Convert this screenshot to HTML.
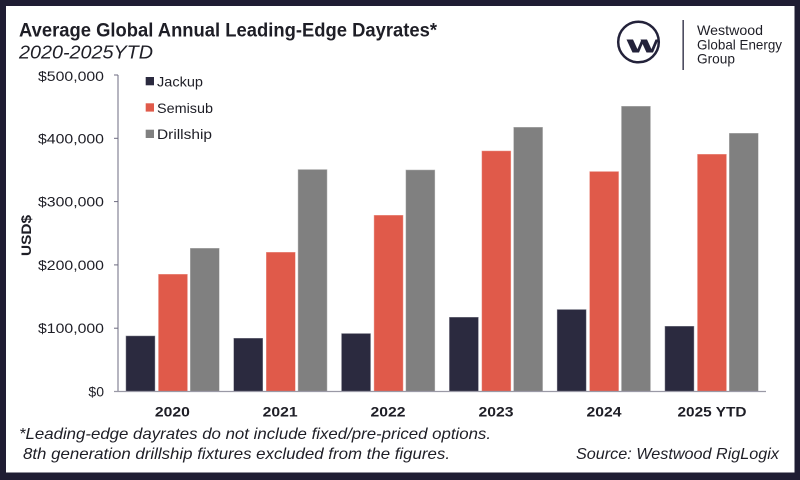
<!DOCTYPE html>
<html>
<head>
<meta charset="utf-8">
<style>
  html, body { margin: 0; padding: 0; background: #1f1d33; }
  svg { display: block; }
  text { font-family: "Liberation Sans", "DejaVu Sans", sans-serif; fill: #1e1e26; }
</style>
</head>
<body>
<svg width="800" height="480" viewBox="0 0 800 480" xmlns="http://www.w3.org/2000/svg">
  <!-- frame -->
  <rect x="0" y="0" width="800" height="480" fill="#1f1d33"/>
  <rect x="6" y="6" width="788.5" height="466.5" fill="#ffffff"/>

  <!-- title -->
  <text x="19" y="36.5" font-size="19" font-weight="bold" textLength="418" lengthAdjust="spacingAndGlyphs">Average Global Annual Leading-Edge Dayrates*</text>
  <text x="19" y="58.5" font-size="18.5" font-style="italic" fill="#222" textLength="134" lengthAdjust="spacingAndGlyphs">2020-2025YTD</text>

  <!-- logo -->
  <circle cx="638.5" cy="42" r="20.3" fill="none" stroke="#23223a" stroke-width="2.5"/>
  <g fill="#23223a">
    <polygon points="626.5,39.5 633,39.5 639,52.5 632.5,52.5"/>
    <polygon points="636,52.5 639,52.5 644.5,39.5 641.5,39.5"/>
    <polygon points="640.5,39.5 647,39.5 653,52.5 646.5,52.5"/>
    <polygon points="650,52.5 653,52.5 658.5,39.5 655.5,39.5"/>
  </g>
  <rect x="682.5" y="20" width="1.3" height="50" fill="#23223a"/>
  <text x="697" y="35" font-size="14" fill="#23223a" textLength="66" lengthAdjust="spacingAndGlyphs">Westwood</text>
  <text x="697" y="49.5" font-size="14" fill="#23223a" textLength="85" lengthAdjust="spacingAndGlyphs">Global Energy</text>
  <text x="697" y="63.5" font-size="14" fill="#23223a" textLength="38" lengthAdjust="spacingAndGlyphs">Group</text>

  <!-- y axis labels -->
  <g font-size="14" text-anchor="end">
    <text x="104" y="81" textLength="66" lengthAdjust="spacingAndGlyphs">$500,000</text>
    <text x="104" y="143.3" textLength="66" lengthAdjust="spacingAndGlyphs">$400,000</text>
    <text x="104" y="206.6" textLength="66" lengthAdjust="spacingAndGlyphs">$300,000</text>
    <text x="104" y="269.9" textLength="66" lengthAdjust="spacingAndGlyphs">$200,000</text>
    <text x="104" y="333.2" textLength="66" lengthAdjust="spacingAndGlyphs">$100,000</text>
    <text x="104" y="396.5">$0</text>
  </g>
  <text transform="translate(31,235.5) rotate(-90)" font-size="14" font-weight="bold" text-anchor="middle" textLength="41" lengthAdjust="spacingAndGlyphs">USD$</text>

  <!-- axes -->
  <g stroke="#6d6b80" stroke-width="1">
    <line x1="118" y1="75" x2="118" y2="391.5"/>
    <line x1="114" y1="75" x2="118" y2="75"/>
    <line x1="114" y1="138.3" x2="118" y2="138.3"/>
    <line x1="114" y1="201.6" x2="118" y2="201.6"/>
    <line x1="114" y1="264.9" x2="118" y2="264.9"/>
    <line x1="114" y1="328.2" x2="118" y2="328.2"/>
  </g>

  <!-- bars -->
  <g stroke="#ffffff" stroke-opacity="0.45" stroke-width="1">
    <!-- 2020 -->
    <rect x="125.7" y="335.7" width="29.5" height="55.8" fill="#2b2a3f"/>
    <rect x="158.2" y="274" width="29.5" height="117.5" fill="#e05a4a"/>
    <rect x="190" y="248" width="29.5" height="143.5" fill="#808080"/>
    <!-- 2021 -->
    <rect x="233.5" y="338" width="29.5" height="53.5" fill="#2b2a3f"/>
    <rect x="266" y="252" width="29.5" height="139.5" fill="#e05a4a"/>
    <rect x="297.8" y="169.3" width="29.5" height="222.2" fill="#808080"/>
    <!-- 2022 -->
    <rect x="341.3" y="333.3" width="29.5" height="58.2" fill="#2b2a3f"/>
    <rect x="373.8" y="215" width="29.5" height="176.5" fill="#e05a4a"/>
    <rect x="405.6" y="169.7" width="29.5" height="221.8" fill="#808080"/>
    <!-- 2023 -->
    <rect x="449.1" y="317" width="29.5" height="74.5" fill="#2b2a3f"/>
    <rect x="481.6" y="150.7" width="29.5" height="240.8" fill="#e05a4a"/>
    <rect x="513.4" y="127" width="29.5" height="264.5" fill="#808080"/>
    <!-- 2024 -->
    <rect x="556.9" y="309.3" width="29.5" height="82.2" fill="#2b2a3f"/>
    <rect x="589.4" y="171.3" width="29.5" height="220.2" fill="#e05a4a"/>
    <rect x="621.2" y="106" width="29.5" height="285.5" fill="#808080"/>
    <!-- 2025 -->
    <rect x="664.7" y="326" width="29.5" height="65.5" fill="#2b2a3f"/>
    <rect x="697.2" y="154" width="29.5" height="237.5" fill="#e05a4a"/>
    <rect x="729" y="133" width="29.5" height="258.5" fill="#808080"/>
  </g>

  <line x1="114" y1="391.5" x2="766" y2="391.5" stroke="#9a99a6" stroke-width="1.3"/>

  <!-- legend -->
  <rect x="145.7" y="77" width="8.3" height="8.3" fill="#2b2a3f"/>
  <text x="157" y="86.5" font-size="14" textLength="46" lengthAdjust="spacingAndGlyphs">Jackup</text>
  <rect x="145.7" y="103.3" width="8.3" height="8.3" fill="#e05a4a"/>
  <text x="157" y="112.8" font-size="14" textLength="56" lengthAdjust="spacingAndGlyphs">Semisub</text>
  <rect x="145.7" y="129.7" width="8.3" height="8.3" fill="#808080"/>
  <text x="157" y="139.2" font-size="14" textLength="55" lengthAdjust="spacingAndGlyphs">Drillship</text>

  <!-- x labels -->
  <g font-size="14" font-weight="bold" text-anchor="middle">
    <text x="172.4" y="416.5" textLength="35" lengthAdjust="spacingAndGlyphs">2020</text>
    <text x="280.2" y="416.5" textLength="35" lengthAdjust="spacingAndGlyphs">2021</text>
    <text x="388" y="416.5" textLength="35" lengthAdjust="spacingAndGlyphs">2022</text>
    <text x="496" y="416.5" textLength="35" lengthAdjust="spacingAndGlyphs">2023</text>
    <text x="604" y="416.5" textLength="35" lengthAdjust="spacingAndGlyphs">2024</text>
    <text x="712" y="416.5" textLength="69" lengthAdjust="spacingAndGlyphs">2025 YTD</text>
  </g>

  <!-- footnotes -->
  <text x="19" y="439" font-size="16" font-style="italic" textLength="472" lengthAdjust="spacingAndGlyphs">*Leading-edge dayrates do not include fixed/pre-priced options.</text>
  <text x="23" y="459" font-size="16" font-style="italic" textLength="427" lengthAdjust="spacingAndGlyphs">8th generation drillship fixtures excluded from the figures.</text>
  <text x="576" y="459" font-size="16" font-style="italic" textLength="203" lengthAdjust="spacingAndGlyphs">Source: Westwood RigLogix</text>
</svg>
</body>
</html>
